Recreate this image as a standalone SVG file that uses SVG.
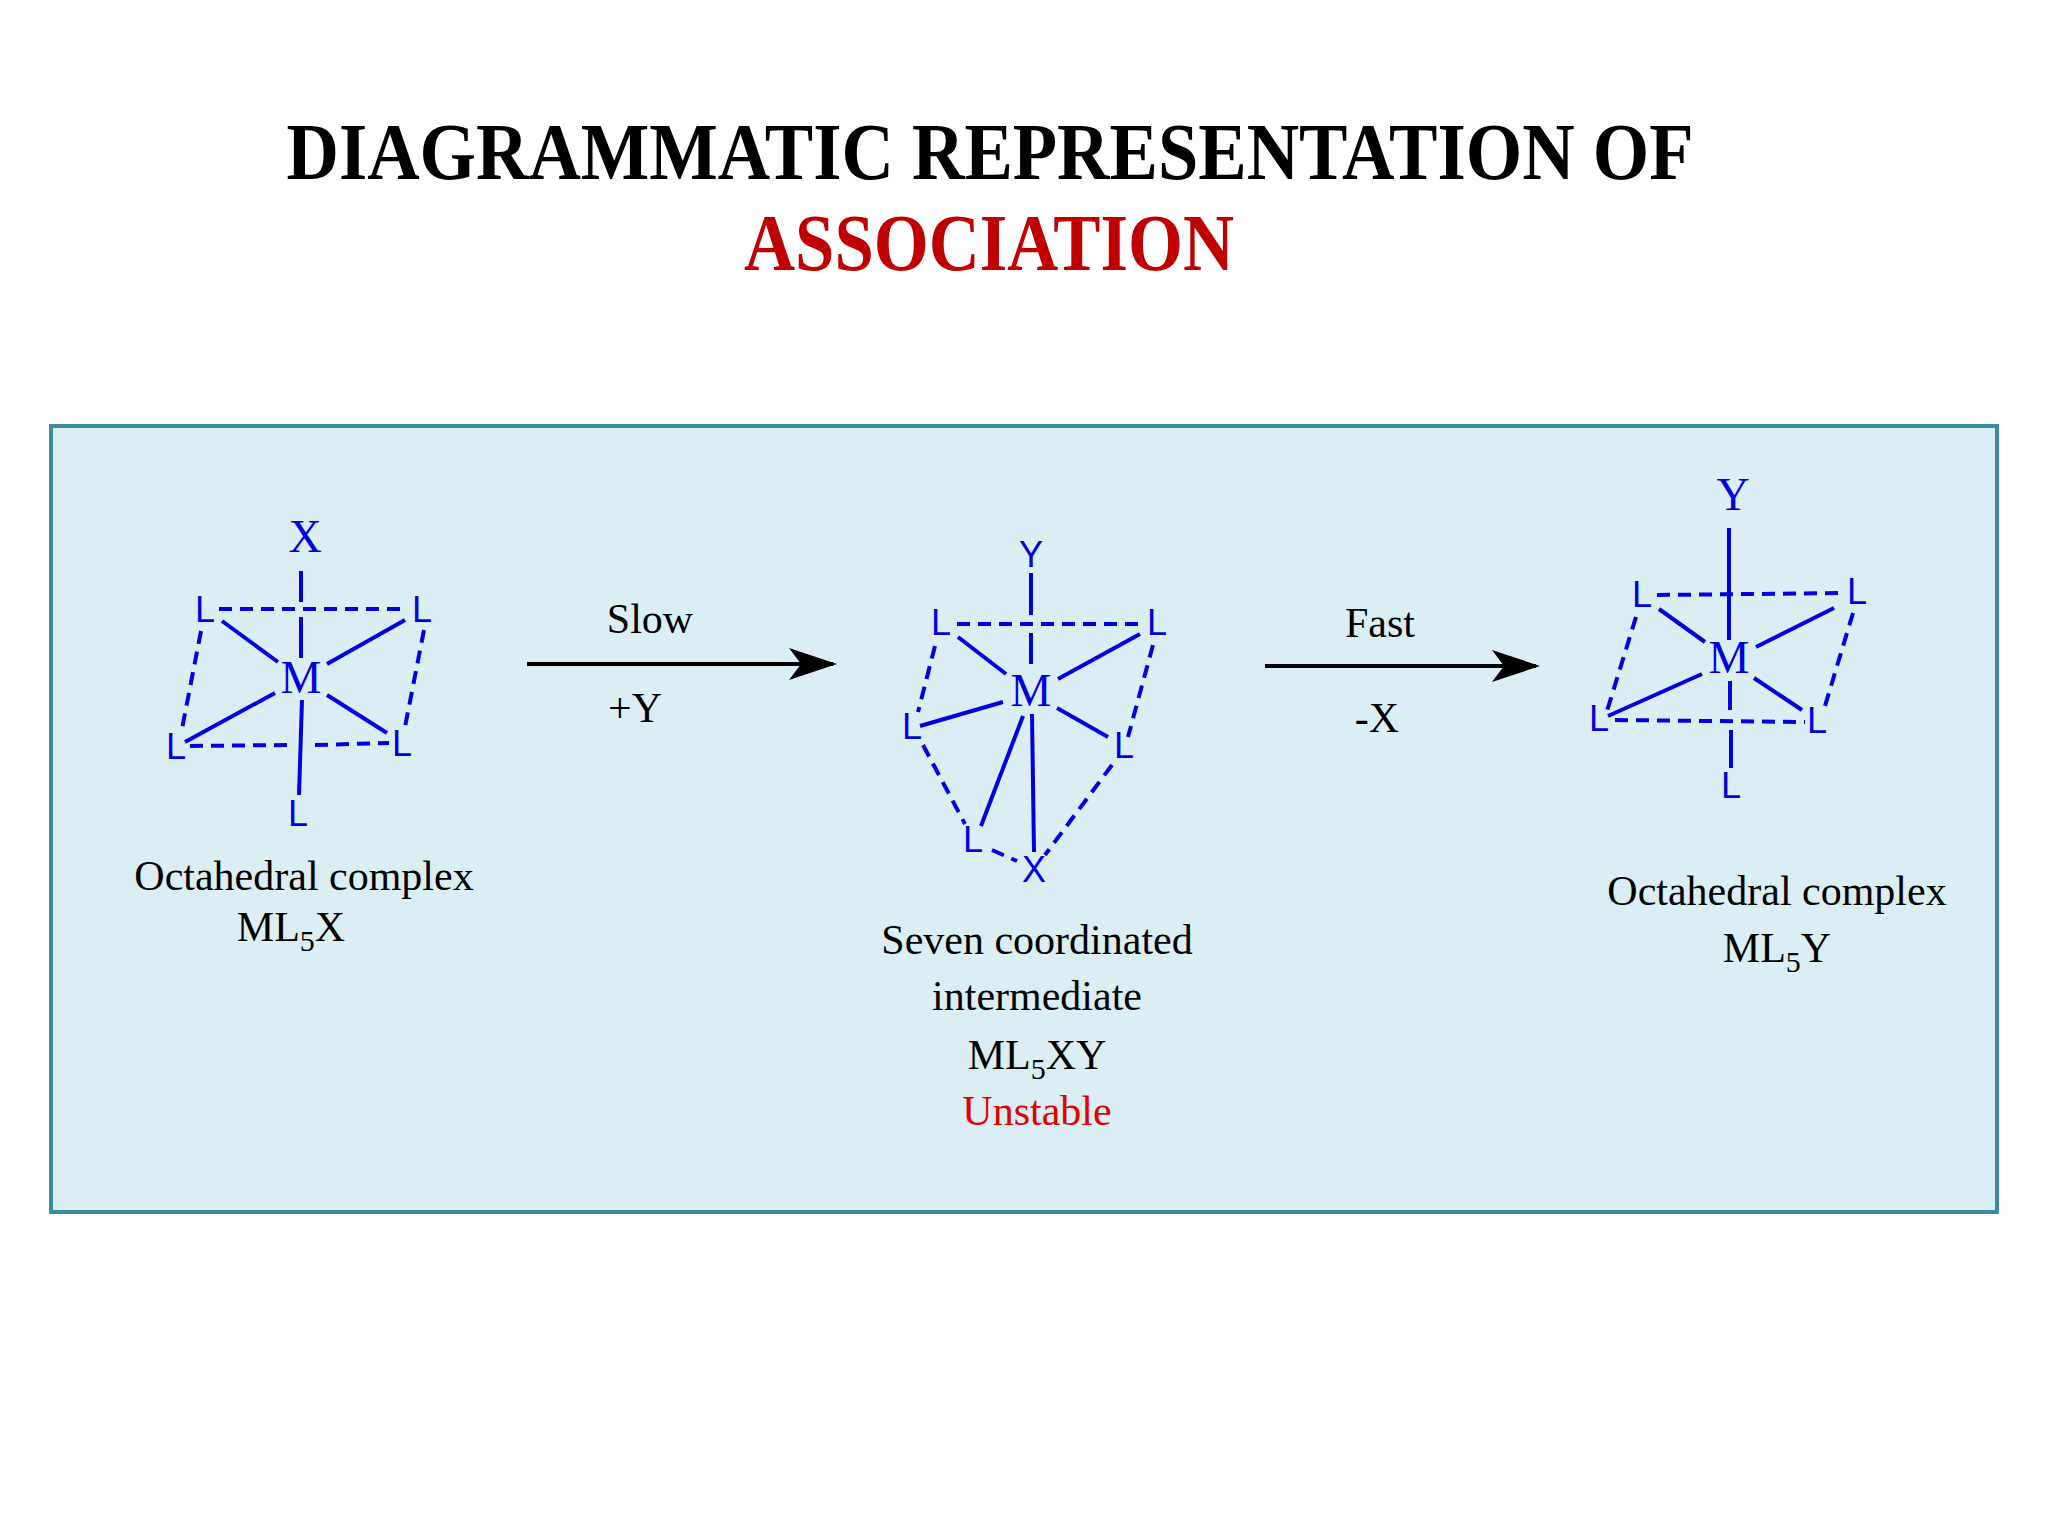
<svg xmlns="http://www.w3.org/2000/svg" width="2048" height="1536" viewBox="0 0 2048 1536">
<style>
.s{stroke:#0000e0;stroke-width:4;fill:none}
.d{stroke:#0000e0;stroke-width:4;fill:none;stroke-dasharray:13 8}
.ls{font-family:"Liberation Sans",Arial,sans-serif;font-size:36px;fill:#0000e0;text-anchor:middle}
.lr{font-family:"Liberation Serif","Times New Roman",serif;font-size:46px;fill:#0000e0;text-anchor:middle}
.t{font-family:"Liberation Serif","Times New Roman",serif;font-size:42px;fill:#000;text-anchor:middle}
.red{fill:#e00000}
.a{stroke:#000;stroke-width:4;fill:none}
</style>
<defs>
<marker id="ah" markerWidth="12" markerHeight="8" refX="11" refY="4" orient="auto" markerUnits="strokeWidth">
<path d="M0,0 L12,4 L0,8 L3,4 Z" fill="#000"/>
</marker>
</defs>
<rect width="2048" height="1536" fill="#fff"/>
<g id="title">
<text x="990" y="179" font-family="'Liberation Serif','Times New Roman',serif" font-weight="bold" font-size="80" text-anchor="middle" textLength="1407" lengthAdjust="spacingAndGlyphs">DIAGRAMMATIC  REPRESENTATION OF</text>
<text x="989" y="270" font-family="'Liberation Serif','Times New Roman',serif" font-weight="bold" font-size="80" fill="#c00000" text-anchor="middle" textLength="490" lengthAdjust="spacingAndGlyphs">ASSOCIATION</text>
</g>
<rect id="panel" x="51" y="426" width="1946" height="786" fill="#dbeef3" stroke="#3a8aa0" stroke-width="4"/>
<g id="complex1">
<line class="s" x1="301" y1="571" x2="301" y2="602"/>
<line class="s" x1="301" y1="617" x2="301" y2="658"/>
<line class="d" x1="219" y1="609" x2="408" y2="609"/>
<line class="d" x1="190" y1="746" x2="290" y2="745"/>
<line class="d" x1="315" y1="745" x2="389" y2="743"/>
<line class="d" x1="201" y1="631" x2="182" y2="729"/>
<line class="d" x1="424" y1="630" x2="405" y2="727"/>
<line class="s" x1="222" y1="621" x2="278" y2="662"/>
<line class="s" x1="327" y1="664" x2="405" y2="620"/>
<line class="s" x1="275" y1="693" x2="185" y2="742"/>
<line class="s" x1="327" y1="695" x2="387" y2="733"/>
<line class="s" x1="302" y1="700" x2="299" y2="795"/>
<text class="lr" x="305" y="552">X</text>
<text class="lr" x="301" y="693">M</text>
<text class="ls" x="205" y="622">L</text>
<text class="ls" x="422" y="622">L</text>
<text class="ls" x="176" y="759">L</text>
<text class="ls" x="402" y="756">L</text>
<text class="ls" x="298" y="826">L</text>
<text class="t" x="304" y="890">Octahedral complex</text>
<text class="t" x="291" y="941">ML<tspan font-size="30" dy="10">5</tspan><tspan dy="-10">X</tspan></text>
</g>
<g id="complex2">
<line class="s" x1="1031" y1="573" x2="1031" y2="615"/>
<line class="s" x1="1031" y1="633" x2="1031" y2="664"/>
<line class="d" x1="957" y1="624" x2="1145" y2="624"/>
<line class="d" x1="935" y1="646" x2="918" y2="712"/>
<line class="d" x1="923" y1="745" x2="965" y2="824"/>
<line class="d" x1="992" y1="850" x2="1017" y2="861"/>
<line class="d" x1="1153" y1="645" x2="1128" y2="737"/>
<line class="d" x1="1112" y1="765" x2="1045" y2="855"/>
<line class="s" x1="958" y1="637" x2="1006" y2="674"/>
<line class="s" x1="1058" y1="679" x2="1140" y2="634"/>
<line class="s" x1="1003" y1="702" x2="920" y2="726"/>
<line class="s" x1="1057" y1="708" x2="1108" y2="737"/>
<line class="s" x1="1023" y1="716" x2="981" y2="826"/>
<line class="s" x1="1032" y1="714" x2="1034" y2="852"/>
<text class="ls" x="1031" y="567">Y</text>
<text class="lr" x="1031" y="706">M</text>
<text class="ls" x="941" y="635">L</text>
<text class="ls" x="1157" y="635">L</text>
<text class="ls" x="912" y="739">L</text>
<text class="ls" x="1124" y="758">L</text>
<text class="ls" x="973" y="852">L</text>
<text class="ls" x="1034" y="882">X</text>
<text class="t" x="1037" y="954">Seven coordinated</text>
<text class="t" x="1037" y="1010">intermediate</text>
<text class="t" x="1037" y="1069">ML<tspan font-size="30" dy="10">5</tspan><tspan dy="-10">XY</tspan></text>
<text class="t red" x="1037" y="1125">Unstable</text>
</g>
<g id="complex3">
<line class="s" x1="1729" y1="528" x2="1729" y2="640"/>
<line class="d" x1="1657" y1="595" x2="1844" y2="593"/>
<line class="d" x1="1615" y1="720" x2="1805" y2="722"/>
<line class="d" x1="1636" y1="617" x2="1607" y2="711"/>
<line class="d" x1="1853" y1="613" x2="1825" y2="706"/>
<line class="s" x1="1659" y1="609" x2="1705" y2="642"/>
<line class="s" x1="1756" y1="647" x2="1834" y2="608"/>
<line class="s" x1="1702" y1="674" x2="1608" y2="716"/>
<line class="s" x1="1754" y1="678" x2="1802" y2="710"/>
<line class="s" x1="1730" y1="681" x2="1730" y2="710"/>
<line class="s" x1="1731" y1="730" x2="1731" y2="768"/>
<text class="lr" x="1733" y="510">Y</text>
<text class="lr" x="1729" y="673">M</text>
<text class="ls" x="1642" y="607">L</text>
<text class="ls" x="1857" y="604">L</text>
<text class="ls" x="1599" y="731">L</text>
<text class="ls" x="1817" y="733">L</text>
<text class="ls" x="1731" y="798">L</text>
<text class="t" x="1777" y="905">Octahedral complex</text>
<text class="t" x="1777" y="962">ML<tspan font-size="30" dy="10">5</tspan><tspan dy="-10">Y</tspan></text>
</g>
<g id="connectors">
<line class="a" x1="527" y1="664" x2="833" y2="664" marker-end="url(#ah)"/>
<text class="t" x="650" y="633">Slow</text>
<text class="t" x="635" y="722">+Y</text>
<line class="a" x1="1265" y1="666" x2="1536" y2="666" marker-end="url(#ah)"/>
<text class="t" x="1380" y="637">Fast</text>
<text class="t" x="1377" y="732">-X</text>
</g>
</svg>
